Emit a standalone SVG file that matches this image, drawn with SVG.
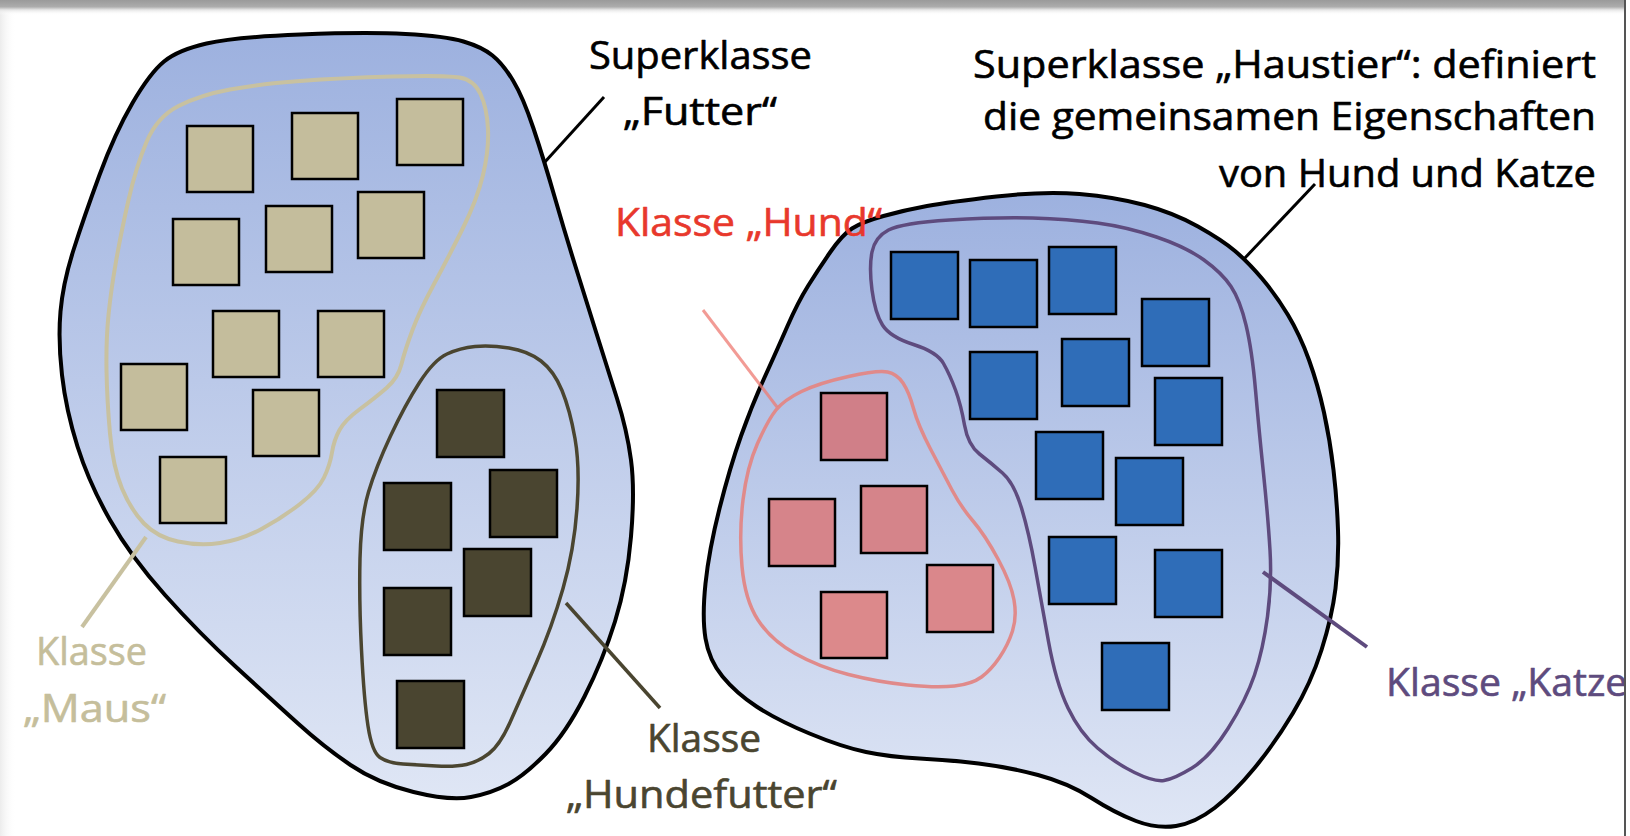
<svg xmlns="http://www.w3.org/2000/svg" width="1630" height="836" viewBox="0 0 1630 836">
<defs>
<linearGradient id="blobFill" x1="0" y1="0" x2="0" y2="1">
<stop offset="0" stop-color="#9db1df"/>
<stop offset="1" stop-color="#dfe6f5"/>
</linearGradient>
<linearGradient id="topBar" x1="0" y1="0" x2="0" y2="1">
<stop offset="0" stop-color="#9a9a9a"/>
<stop offset="0.45" stop-color="#acacac"/>
<stop offset="0.65" stop-color="#e4e4e4"/>
<stop offset="1" stop-color="#ffffff" stop-opacity="0"/>
</linearGradient>
<linearGradient id="leftShade" x1="0" y1="0" x2="1" y2="0">
<stop offset="0" stop-color="#ececec"/>
<stop offset="1" stop-color="#ffffff" stop-opacity="0"/>
</linearGradient>
<clipPath id="pageClip"><rect x="0" y="0" width="1624" height="836"/></clipPath>
<style>
.blob{fill:url(#blobFill);stroke:#000;stroke-width:4;stroke-linejoin:round}
.sq{stroke:#000;stroke-width:2.5}
.maus{fill:#c4bd9c}
.hf{fill:#4a4530}
.katz{fill:#2f6db8}
.lbl{font-family:"Open Sans","Noto Sans","Liberation Sans",sans-serif;font-size:38px;font-weight:500;stroke-width:0.6;stroke-linejoin:round}
.outline{fill:none;stroke-linejoin:round}
.conn{fill:none;stroke-linecap:butt}
</style>
</defs>

<rect x="0" y="0" width="1630" height="836" fill="#ffffff"/>
<rect x="0" y="0" width="16" height="836" fill="url(#leftShade)"/>
<rect x="0" y="0" width="1624" height="15" fill="url(#topBar)"/>
<line x1="1625" y1="0" x2="1625" y2="836" stroke="#555555" stroke-width="2"/>

<g id="superklasse-futter">
<path class="blob" d="M 300.5,34.5 Q 366,32 405.5,34 Q 445,36 463.5,41.5 Q 482,47 492.5,55.5 Q 503,64 513,80.5 Q 523,97 533.5,128.5 Q 544,160 554.5,196.5 Q 565,233 575.5,266.5 Q 586,300 596.5,333.5 Q 607,367 617,398.5 Q 627,430 631,460 Q 635,490 631,536.5 Q 627,583 615,621.5 Q 603,660 584.5,696.5 Q 566,733 545.5,754 Q 525,775 508.5,784 Q 492,793 471,797 Q 450,801 413.5,792 Q 377,783 350.5,765 Q 324,747 298,723.5 Q 272,700 235.5,666.5 Q 199,633 165,595 Q 131,557 110,520 Q 89,483 77.5,446.5 Q 66,410 62,375 Q 58,340 60.5,311.5 Q 63,283 73.5,250 Q 84,217 99.5,175 Q 115,133 132.5,103 Q 150,73 164,61.5 Q 178,50 206.5,43.5 Q 235,37 300.5,34.5 Z"/>
<text class="lbl" x="589" y="69" fill="#000" stroke="#000" textLength="223" lengthAdjust="spacingAndGlyphs">Superklasse</text>
<text class="lbl" x="623" y="125" fill="#000" stroke="#000" textLength="154" lengthAdjust="spacingAndGlyphs">„Futter“</text>
</g>

<g id="klasse-maus">
<path class="outline" stroke="#c8c1a0" stroke-width="4" d="M 178.5,106 Q 200,95 230,89.5 Q 260,84 300,81 Q 340,78 392.5,76.5 Q 445,75 459.5,77.5 Q 474,80 480.5,94 Q 487,108 488,129 Q 489,150 483,175 Q 477,200 462,230 Q 447,260 433.5,285 Q 420,310 412.5,330 Q 405,350 401.5,364 Q 398,378 386.5,388 Q 375,398 360,409 Q 345,420 339.5,430 Q 334,440 332,452.5 Q 330,465 324,477.5 Q 318,490 300,504 Q 282,518 261.5,529 Q 241,540 220,543 Q 199,546 178,541.5 Q 157,537 144,523.5 Q 131,510 122,488.5 Q 113,467 110,433.5 Q 107,400 106.5,370 Q 106,340 108.5,315 Q 111,290 116,261.5 Q 121,233 128.5,200 Q 136,167 146.5,142 Q 157,117 178.5,106 Z"/>
<rect class="sq maus" x="187" y="126" width="66" height="66"/>
<rect class="sq maus" x="292" y="113" width="66" height="66"/>
<rect class="sq maus" x="397" y="99" width="66" height="66"/>
<rect class="sq maus" x="173" y="219" width="66" height="66"/>
<rect class="sq maus" x="266" y="206" width="66" height="66"/>
<rect class="sq maus" x="358" y="192" width="66" height="66"/>
<rect class="sq maus" x="213" y="311" width="66" height="66"/>
<rect class="sq maus" x="318" y="311" width="66" height="66"/>
<rect class="sq maus" x="121" y="364" width="66" height="66"/>
<rect class="sq maus" x="253" y="390" width="66" height="66"/>
<rect class="sq maus" x="160" y="457" width="66" height="66"/>
<text class="lbl" x="36" y="665" fill="#c5be9b" stroke="#c5be9b" textLength="111" lengthAdjust="spacingAndGlyphs">Klasse</text>
<text class="lbl" x="23" y="722" fill="#c5be9b" stroke="#c5be9b" textLength="143" lengthAdjust="spacingAndGlyphs">„Maus“</text>
</g>

<g id="klasse-hundefutter">
<path class="outline" stroke="#4a4530" stroke-width="3.5" d="M 447,354 Q 460,348 475,346.5 Q 490,345 509,348 Q 528,351 541,361 Q 554,371 562,390.5 Q 570,410 575,438.5 Q 580,467 577,508.5 Q 574,550 563,588.5 Q 552,627 536,663.5 Q 520,700 510,722.5 Q 500,745 489,753.5 Q 478,762 466.5,764.5 Q 455,767 436.5,766 Q 418,765 403,764 Q 388,763 380,757.5 Q 372,752 368,726 Q 364,700 361.5,650 Q 359,600 360,558.5 Q 361,517 368.5,492 Q 376,467 390.5,436 Q 405,405 419.5,382.5 Q 434,360 447,354 Z"/>
<rect class="sq hf" x="437" y="390" width="67" height="67"/>
<rect class="sq hf" x="384" y="483" width="67" height="67"/>
<rect class="sq hf" x="490" y="470" width="67" height="67"/>
<rect class="sq hf" x="464" y="549" width="67" height="67"/>
<rect class="sq hf" x="384" y="588" width="67" height="67"/>
<rect class="sq hf" x="397" y="681" width="67" height="67"/>
<text class="lbl" x="647" y="752" fill="#4a4530" stroke="#4a4530" textLength="114" lengthAdjust="spacingAndGlyphs">Klasse</text>
<text class="lbl" x="566" y="808" fill="#4a4530" stroke="#4a4530" textLength="271" lengthAdjust="spacingAndGlyphs">„Hundefutter“</text>
</g>

<g id="superklasse-haustier">
<path class="blob" d="M 852,228.5 Q 862,222 883.5,216 Q 905,210 927,206 Q 949,202 996.5,196.5 Q 1044,191 1079.5,194 Q 1115,197 1144.5,205 Q 1174,213 1198,226.5 Q 1222,240 1235,251 Q 1248,262 1262,278.5 Q 1276,295 1288,315 Q 1300,335 1309,360 Q 1318,385 1324,412.5 Q 1330,440 1333.5,470 Q 1337,500 1338,530 Q 1339,560 1335.5,588.5 Q 1332,617 1321.5,650 Q 1311,683 1293,713 Q 1275,743 1254.5,768 Q 1234,793 1214.5,808 Q 1195,823 1176,826 Q 1157,829 1136,821 Q 1115,813 1091.5,798 Q 1068,783 1038,775 Q 1008,767 978.5,763.5 Q 949,760 919.5,758.5 Q 890,757 866,752 Q 842,747 809.5,733.5 Q 777,720 756.5,706.5 Q 736,693 722.5,676.5 Q 709,660 705.5,638.5 Q 702,617 705.5,583.5 Q 709,550 719.5,508.5 Q 730,467 741,436 Q 752,405 764.5,377.5 Q 777,350 787.5,326 Q 798,302 808,286 Q 818,270 830,252.5 Q 842,235 852,228.5 Z"/>
<text class="lbl" x="973" y="78" fill="#000" stroke="#000" textLength="623" lengthAdjust="spacingAndGlyphs">Superklasse „Haustier“: definiert</text>
<text class="lbl" x="983" y="130" fill="#000" stroke="#000" textLength="613" lengthAdjust="spacingAndGlyphs">die gemeinsamen Eigenschaften</text>
<text class="lbl" x="1219" y="187" fill="#000" stroke="#000" textLength="377" lengthAdjust="spacingAndGlyphs">von Hund und Katze</text>
</g>

<g id="klasse-katze">
<path class="outline" stroke="#5e4b7e" stroke-width="3.5" d="M 949.5,220 Q 997,217 1032.5,218 Q 1068,219 1097.5,223 Q 1127,227 1156.5,237 Q 1186,247 1204,260 Q 1222,273 1231,286.5 Q 1240,300 1246,325 Q 1252,350 1255.5,390 Q 1259,430 1263.5,473.5 Q 1268,517 1270,550 Q 1272,583 1267.5,616.5 Q 1263,650 1254.5,675 Q 1246,700 1228,728.5 Q 1210,757 1192,768 Q 1174,779 1164,780.5 Q 1154,782 1134.5,772.5 Q 1115,763 1097.5,748 Q 1080,733 1068,708 Q 1056,683 1048.5,641.5 Q 1041,600 1035,566.5 Q 1029,533 1021.5,508 Q 1014,483 1002.5,473 Q 991,463 979.5,454 Q 968,445 964.5,425 Q 961,405 955.5,390 Q 950,375 943.5,363.5 Q 937,352 913.5,344.5 Q 890,337 882.5,325 Q 875,313 872,290 Q 869,267 872,252 Q 875,237 888.5,230 Q 902,223 949.5,220 Z"/>
<rect class="sq katz" x="891" y="252" width="67" height="67"/>
<rect class="sq katz" x="970" y="260" width="67" height="67"/>
<rect class="sq katz" x="1049" y="247" width="67" height="67"/>
<rect class="sq katz" x="1142" y="299" width="67" height="67"/>
<rect class="sq katz" x="970" y="352" width="67" height="67"/>
<rect class="sq katz" x="1062" y="339" width="67" height="67"/>
<rect class="sq katz" x="1155" y="378" width="67" height="67"/>
<rect class="sq katz" x="1036" y="432" width="67" height="67"/>
<rect class="sq katz" x="1116" y="458" width="67" height="67"/>
<rect class="sq katz" x="1049" y="537" width="67" height="67"/>
<rect class="sq katz" x="1155" y="550" width="67" height="67"/>
<rect class="sq katz" x="1102" y="643" width="67" height="67"/>
<text class="lbl" x="1386" y="696" fill="#5e4b7e" stroke="#5e4b7e" clip-path="url(#pageClip)" textLength="255" lengthAdjust="spacingAndGlyphs">Klasse „Katze“</text>
</g>

<g id="klasse-hund">
<path class="outline" stroke="#e08a8a" stroke-width="3.5" d="M 848.5,376.5 Q 878,370 887.5,372 Q 897,374 903,383 Q 909,392 913.5,408.5 Q 918,425 930.5,449 Q 943,473 952,490 Q 961,507 973,521 Q 985,535 998,559 Q 1011,583 1014,600 Q 1017,617 1012.5,631 Q 1008,645 999.5,657.5 Q 991,670 981.5,677 Q 972,684 954.5,686 Q 937,688 907.5,685 Q 878,682 848.5,674.5 Q 819,667 795,653.5 Q 771,640 758,620 Q 745,600 742,566.5 Q 739,533 743,500 Q 747,467 757.5,443.5 Q 768,420 776,410 Q 784,400 801.5,391.5 Q 819,383 848.5,376.5 Z"/>
<rect class="sq" fill="#d07f88" x="821" y="393" width="66" height="67"/>
<rect class="sq" fill="#d6848a" x="769" y="499" width="66" height="67"/>
<rect class="sq" fill="#d5848a" x="861" y="486" width="66" height="67"/>
<rect class="sq" fill="#dc898b" x="821" y="592" width="66" height="66"/>
<rect class="sq" fill="#da878b" x="927" y="565" width="66" height="67"/>
<text class="lbl" x="615" y="236" fill="#e8382c" stroke="#e8382c" textLength="267" lengthAdjust="spacingAndGlyphs">Klasse „Hund“</text>
</g>

<g id="connectors">
<line class="conn" x1="604" y1="97" x2="544" y2="163" stroke="#000" stroke-width="3"/>
<line class="conn" x1="1315" y1="184" x2="1243" y2="260" stroke="#000" stroke-width="3"/>
<line class="conn" x1="146" y1="537" x2="82" y2="627" stroke="#c8c1a0" stroke-width="4"/>
<line class="conn" x1="566" y1="603" x2="660" y2="708" stroke="#4a4530" stroke-width="3.5"/>
<line class="conn" x1="1263" y1="572" x2="1367" y2="647" stroke="#5e4b7e" stroke-width="4"/>
<line class="conn" x1="703" y1="310" x2="777" y2="407" stroke="#ee7a72" stroke-width="3" stroke-opacity="0.75"/>
</g>
</svg>
